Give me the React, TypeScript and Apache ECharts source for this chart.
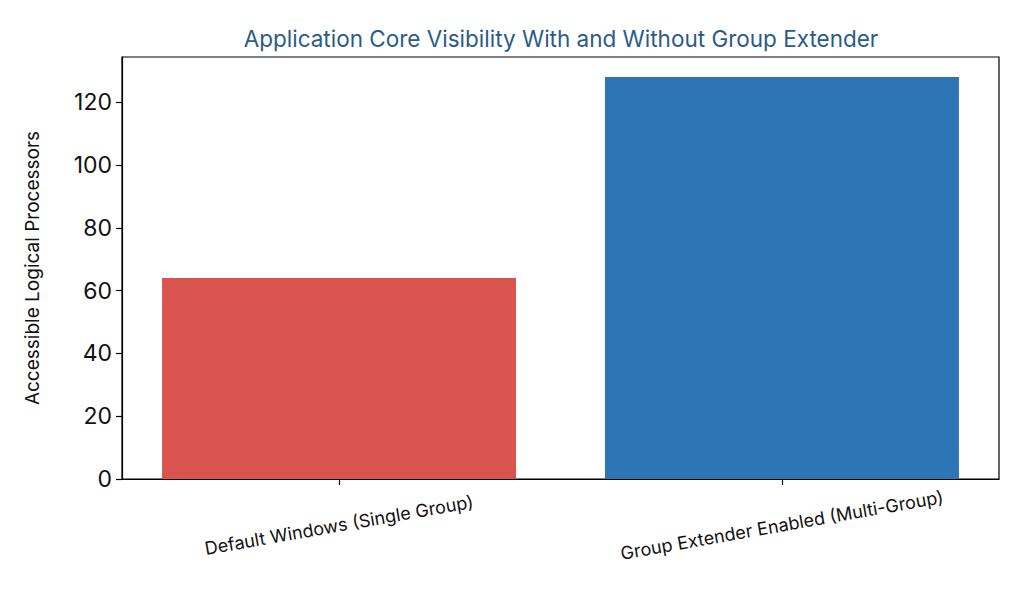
import { useEffect, useRef } from "react";
import * as echarts from "echarts";

const categories = ["Default Windows (Single Group)", "Group Extender Enabled (Multi-Group)"];
const values = [64, 128];
const barColors = ["#d9534f", "#2e75b6"];
const yTicks = [0, 20, 40, 60, 80, 100, 120];

const FONT = "Inter, 'Open Sans', sans-serif";

export default function App() {
  const chartRef = useRef<HTMLDivElement>(null);

  useEffect(() => {
    if (!chartRef.current) return;
    const chart = echarts.init(chartRef.current, null, { renderer: "svg" });

    chart.setOption({
      animation: false,
      backgroundColor: "#ffffff",
      title: {
        text: "Application Core Visibility With and Without Group Extender",
        left: 548,
        top: 14,
        textAlign: "center",
        textStyle: { color: "#2b5b87", fontSize: 22.5, fontWeight: "normal", fontFamily: FONT },
      },
      grid: {
        left: 114,
        right: 17,
        top: 49,
        bottom: 110,
        show: true,
        borderColor: "#000",
        borderWidth: 1.2,
      },
      xAxis: {
        type: "value",
        min: -0.49,
        max: 1.49,
        splitLine: { show: false },
        axisLine: { show: true, onZero: false, lineStyle: { color: "#000", width: 1.2 } },
        axisTick: { show: true, length: 6, customValues: [0, 1], lineStyle: { color: "#000", width: 1.2 } },
        axisLabel: {
          customValues: [0, 1],
          formatter: (v: number) => categories[Math.round(v)] ?? "",
          rotate: 10,
          align: "center",
          verticalAlign: "middle",
          margin: 46,
          color: "#111",
          fontSize: 18,
          fontFamily: FONT,
        },
      },
      yAxis: {
        type: "value",
        min: 0,
        max: 134.4,
        name: "Accessible Logical Processors",
        nameLocation: "middle",
        nameGap: 80,
        nameTextStyle: { color: "#111", fontSize: 19, fontFamily: FONT },
        splitLine: { show: false },
        axisLine: { show: true, onZero: false, lineStyle: { color: "#000", width: 1.2 } },
        axisTick: { show: true, length: 6, customValues: yTicks, lineStyle: { color: "#000", width: 1.2 } },
        axisLabel: {
          customValues: yTicks,
          color: "#111",
          fontSize: 23,
          margin: 10,
          fontFamily: FONT,
        },
      },
      series: [
        {
          type: "bar",
          barWidth: 354,
          data: values.map((v, i) => ({ value: [i, v], itemStyle: { color: barColors[i] } })),
        },
      ],
    });

    return () => chart.dispose();
  }, []);

  return <div ref={chartRef} style={{ width: 1008, height: 581 }} />;
}
